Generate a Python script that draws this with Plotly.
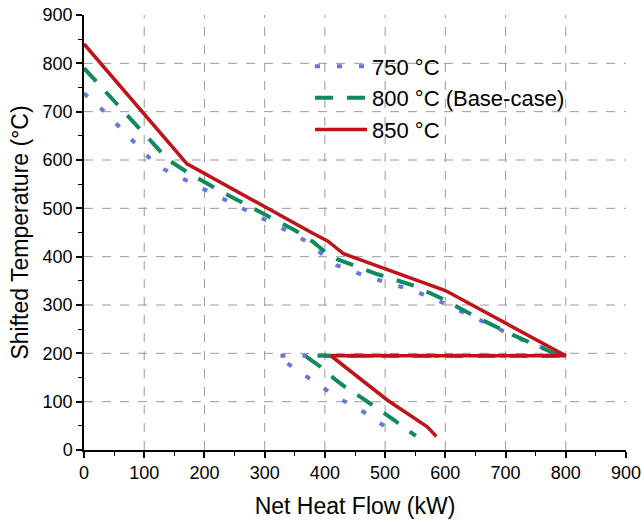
import plotly.graph_objects as go

# ---- data (Net Heat Flow kW, Shifted Temperature °C) ----
x750 = [0, 32, 60, 88, 118, 126, 160, 196, 232, 268, 304, 340, 373, 404, 420, 465, 501, 545, 588, 626, 662, 700, 734, 800,
        320, 354, 387, 423, 459, 493, 509, 512]
y750 = [738, 702, 667, 632, 592, 585, 564, 542, 519, 497, 475, 452, 429, 396, 382, 361, 347, 331, 309, 287, 265, 244, 224, 195,
        195, 165, 138, 107, 83, 56, 41, 32]

x800 = [0, 140, 160, 175, 232, 293, 351, 381, 405, 420, 484, 548, 595, 656, 714, 781, 800,
        367, 393, 418, 445, 459, 484, 515, 527, 537, 551]
y800 = [790, 600, 584, 572, 532, 492, 454, 430, 405, 395, 365, 340, 313, 272, 237, 200, 195,
        195, 172, 145, 120, 110, 89, 62, 50, 41, 29]

x850 = [0, 171, 376, 405, 431, 493, 600, 800, 410, 504, 560, 570, 576, 585]
y850 = [840, 592, 451, 432, 406, 378, 330, 195, 195, 103, 55, 48, 40, 28]

names = ["750 °C", "800 °C (Base-case)", "850 °C"]
grid_vals = [100, 200, 300, 400, 500, 600, 700, 800]
tick_vals = [0, 100, 200, 300, 400, 500, 600, 700, 800, 900]

FONT = "Liberation Sans, Arial"

fig = go.Figure()
fig.add_trace(go.Scatter(x=x750, y=y750, mode="lines", name=names[0],
                         line=dict(color="#6676E0", width=4, dash="5px,17px")))
fig.add_trace(go.Scatter(x=x800, y=y800, mode="lines", name=names[1],
                         line=dict(color="#0E8A5E", width=4, dash="18px,14px")))
fig.add_trace(go.Scatter(x=x850, y=y850, mode="lines", name=names[2],
                         line=dict(color="#C01218", width=3.5)))

shapes = []
for v in grid_vals:
    shapes.append(dict(type="line", xref="x", yref="paper", x0=v, x1=v, y0=0, y1=1,
                       line=dict(color="#9a9a9a", width=1, dash="dash"), layer="below"))
    shapes.append(dict(type="line", xref="paper", yref="y", x0=0, x1=1, y0=v, y1=v,
                       line=dict(color="#9a9a9a", width=1, dash="dash"), layer="below"))

axis_common = dict(
    range=[0, 900], tickvals=tick_vals, showgrid=False, zeroline=False, automargin=False,
    showline=True, linecolor="black", linewidth=1.5,
    ticks="outside", ticklen=6, tickwidth=1.5, tickcolor="black",
    minor=dict(dtick=50, tick0=0, ticks="outside", ticklen=4, tickwidth=1.2, tickcolor="black", showgrid=False),
    tickfont=dict(family=FONT, size=18, color="black"),
    ticklabeloverflow="allow",
)

fig.update_layout(
    width=641, height=525,
    margin=dict(l=84, r=15, t=15, b=75),
    paper_bgcolor="white", plot_bgcolor="white",
    font=dict(family=FONT, color="black"),
    shapes=shapes,
    xaxis=dict(**axis_common, title=dict(text="Net Heat Flow (kW)", font=dict(size=23), standoff=16)),
    yaxis=dict(**axis_common, title=dict(text="Shifted Temperature (°C)", font=dict(size=23), standoff=8)),
    legend=dict(x=0.417, y=0.93, xanchor="left", yanchor="top", bgcolor="rgba(0,0,0,0)",
                font=dict(size=22), itemwidth=52, tracegroupgap=0),
    showlegend=True,
)

# remove the default 8px page margin so the chart fills the window exactly
fig.write_html("out.html", config={"displayModeBar": False},
               post_script="document.body.style.margin='0';")
